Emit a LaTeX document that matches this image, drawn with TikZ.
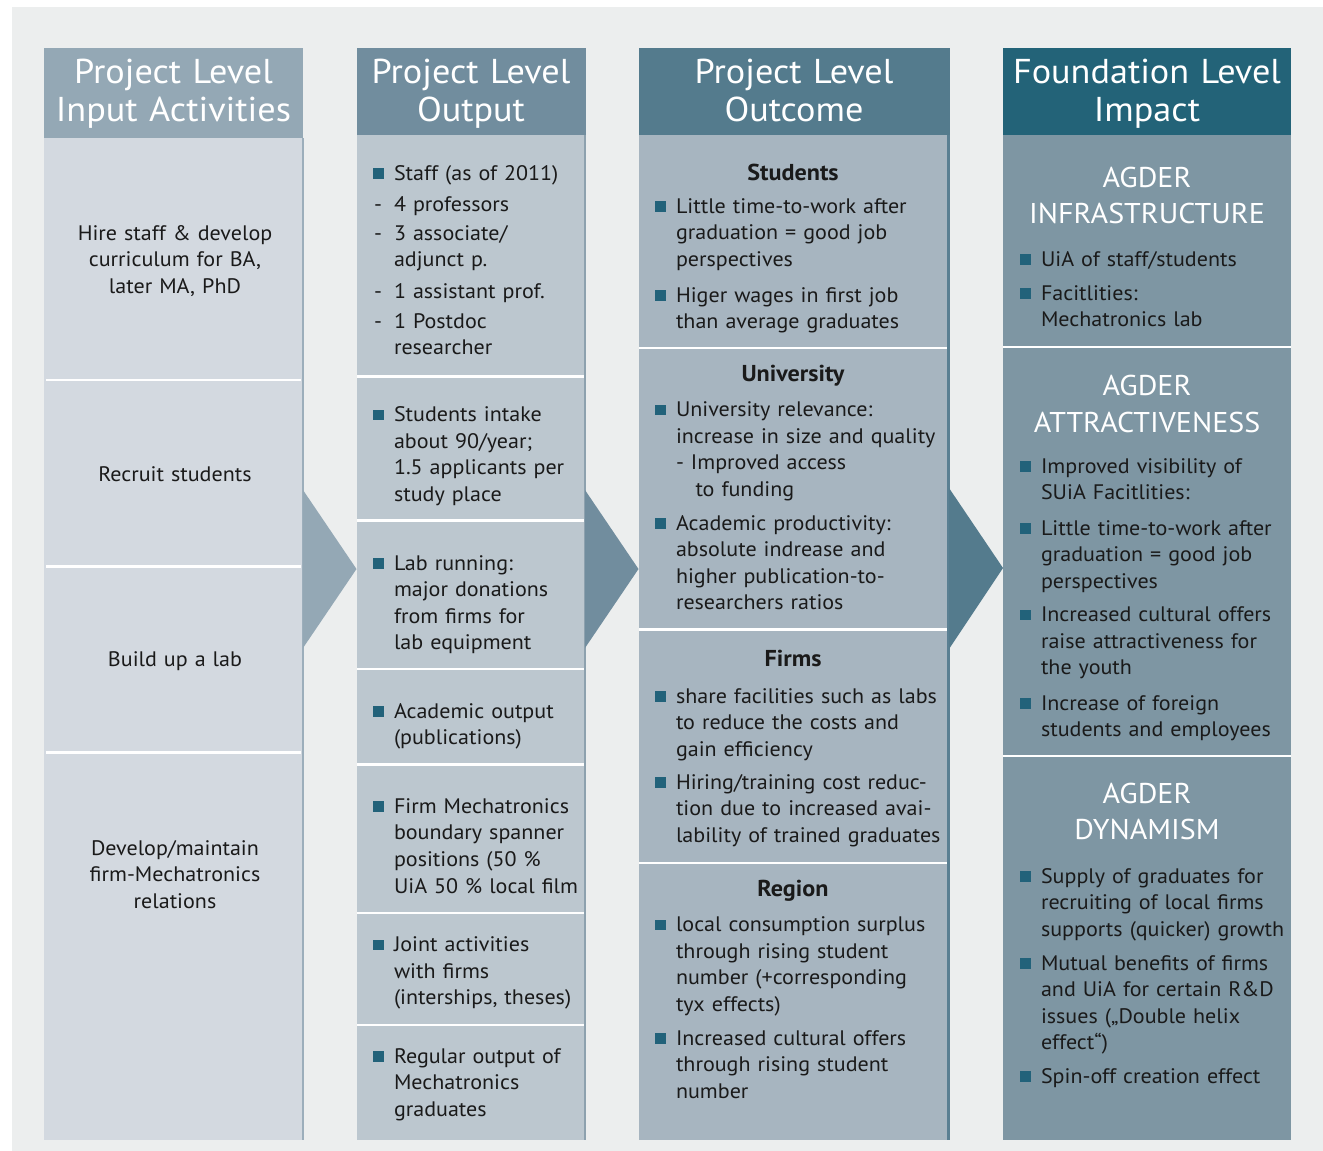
\documentclass[tikz,border=0pt]{standalone}
\usepackage{fontspec}
\setmainfont{PT Sans}[FakeStretch=1.05]
\definecolor{panel}{HTML}{ECEEEE}
\definecolor{hA}{HTML}{94A8B5}
\definecolor{bA}{HTML}{D3D9E0}
\definecolor{eA}{HTML}{9CAEBB}
\definecolor{hB}{HTML}{718D9E}
\definecolor{bB}{HTML}{BCC7CF}
\definecolor{eB}{HTML}{8DA1AE}
\definecolor{hC}{HTML}{547B8D}
\definecolor{bC}{HTML}{A7B5C0}
\definecolor{eC}{HTML}{5A7F92}
\definecolor{hD}{HTML}{236378}
\definecolor{bD}{HTML}{7E96A3}
\definecolor{bul}{HTML}{22627A}
\definecolor{txt}{HTML}{1A1A1A}
\newcommand\bodyfont{\fontsize{21}{26.6}\selectfont}
\newcommand\headfont{\fontsize{34.5}{38}\selectfont}
\newcommand\agfont{\fontsize{28.6}{36.5}\selectfont}
\newcommand\subfont{\bfseries\fontsize{23}{26}\selectfont}
\newcommand\bitem[4]{%
  \fill[bul] (#1,#2-1.5) rectangle ++(10.5,-10.5);
  \node[body] (#3) at (#1+21,#2) {#4};}
\tikzset{
  every node/.style={inner sep=0pt, outer sep=0pt},
  body/.style={anchor=base west, align=left, text width=300pt, font=\bodyfont, text=txt},
  ctr/.style={anchor=base, align=center, text width=300pt, font=\bodyfont, text=txt},
  head/.style={anchor=base, align=center, text width=320pt, font=\headfont, text=white},
  ag/.style={anchor=base, align=center, text width=300pt, font=\agfont, text=white},
  sub/.style={anchor=base, align=center, text width=300pt, font=\subfont, text=txt},
  divider/.style={white, line width=2.2pt},
}
\begin{document}
\begin{tikzpicture}[x=1pt,y=-1pt]
\useasboundingbox (0,0) rectangle (1323,1151);
\fill[white] (0,0) rectangle (1323,1151);
\fill[panel] (12,7) rectangle (1323,1151);

% column bodies and headers
\fill[bA] (44,138) rectangle (303,1140);
\fill[eA] (301.5,138) rectangle (304,1140);
\fill[hA] (44,48) rectangle (303,138);
\fill[bB] (357,135) rectangle (586,1140);
\fill[eB] (583.5,135) rectangle (586,1140);
\fill[hB] (357,48) rectangle (586,135);
\fill[bC] (639,135) rectangle (950,1140);
\fill[eC] (947,135) rectangle (950,1140);
\fill[hC] (639,48) rectangle (950,135);
\fill[bD] (1003,135) rectangle (1291,1140);
\fill[hD] (1003,48) rectangle (1291,135);

% dividers
\foreach \y in {380,566.5,752.5} \draw[divider] (46,\y) -- (301,\y);
\foreach \y in {376.5,520.5,669.3,764.5,913,1025} \draw[divider] (357,\y) -- (583.5,\y);
\foreach \y in {348.3,629.5,863} \draw[divider] (639,\y) -- (947,\y);
\foreach \y in {347,756} \draw[divider] (1003,\y) -- (1291,\y);

% chevrons
\coordinate (a1t) at (303,490); \coordinate (a1p) at (356.5,569); \coordinate (a1b) at (303,648);
\coordinate (a2t) at (585,490); \coordinate (a2p) at (638.5,569); \coordinate (a2b) at (585,648);
\coordinate (a3t) at (949,488); \coordinate (a3p) at (1003,568); \coordinate (a3b) at (949,649);
\fill[hA] (a1t) -- (a1p) -- (a1b) -- cycle;
\fill[hB] (a2t) -- (a2p) -- (a2b) -- cycle;
\fill[hC] (a3t) -- (a3p) -- (a3b) -- cycle;

% headers
\node[head] (h1) at (173.5,83) {Project Level\\Input Activities};
\node[head] (h2) at (471,83) {Project Level\\Output};
\node[head] (h3) at (794,83) {Project Level\\Outcome};
\node[head] (h4) at (1147,83) {Foundation Level\\Impact};

% column 1
\node[ctr] (i1) at (175,240) {Hire staff \& develop\\curriculum for BA,\\later MA, PhD};
\node[ctr] (i2) at (175,481.7) {Recruit students};
\node[ctr] (i3) at (175,666.7) {Build up a lab};
\node[ctr] (i4) at (175,855) {Develop/maintain\\firm-Mechatronics\\relations};

% column 2
\bitem{373}{180}{o1}{Staff (as of 2011)}
\node[body] (o1a) at (374,211.7) {-};
\node[body] (o1at) at (394,211.7) {4 professors};
\node[body] (o1b) at (374,240) {-};
\node[body] (o1bt) at (394,240) {3 associate/\\adjunct p.};
\node[body] (o1c) at (374,298) {-};
\node[body] (o1ct) at (394,298) {1 assistant prof.};
\node[body] (o1d) at (374,328) {-};
\node[body] (o1dt) at (394,328) {1 Postdoc\\researcher};
\bitem{373}{421.7}{o2}{Students intake\\about 90/year;\\1.5 applicants per\\study place}
\bitem{373}{570}{o3}{Lab running:\\major donations\\from firms for\\lab equipment}
\bitem{373}{718}{o4}{Academic output\\(publications)}
\bitem{373}{813.3}{o5}{Firm Mechatronics\\boundary spanner\\positions (50 \%\\UiA 50 \% local film}
\bitem{373}{951.7}{o6}{Joint activities\\with firms\\(interships, theses)}
\bitem{373}{1063.3}{o7}{Regular output of\\Mechatronics\\graduates}

% column 3
\node[sub] (s1) at (793,180) {Students};
\bitem{655}{213}{u1}{Little time-to-work after\\graduation = good job\\perspectives}
\bitem{655}{302}{u2}{Higer wages in first job\\than average graduates}
\node[sub] (s2) at (793,381.7) {University};
\bitem{655}{416.7}{u3}{University relevance:\\increase in size and quality\\- Improved access\\\hspace*{19.5pt}to funding}
\bitem{655}{530}{u4}{Academic productivity:\\absolute indrease and\\higher publication-to-\\researchers ratios}
\node[sub] (s3) at (793,666.7) {Firms};
\bitem{655}{703.3}{u5}{share facilities such as labs\\to reduce the costs and\\gain efficiency}
\bitem{655}{789}{u6}{Hiring/training cost reduc-\\tion due to increased avai-\\lability of trained graduates}
\node[sub] (s4) at (793,896.7) {Region};
\bitem{655}{931.7}{u7}{local consumption surplus\\through rising student\\number (+corresponding\\tyx effects)}
\bitem{655}{1045}{u8}{Increased cultural offers\\through rising student\\number}

% column 4
\node[ag] (g1) at (1147,187) {AGDER\\INFRASTRUCTURE};
\bitem{1020}{266}{m1}{UiA of staff/students}
\bitem{1020}{300}{m2}{Facitlities:\\Mechatronics lab}
\node[ag] (g2) at (1147,395.7) {AGDER\\ATTRACTIVENESS};
\bitem{1020}{473}{m3}{Improved visibility of\\SUiA Facitlities:}
\bitem{1020}{535}{m4}{Little time-to-work after\\graduation = good job\\perspectives}
\bitem{1020}{621.7}{m5}{Increased cultural offers\\raise attractiveness for\\the youth}
\bitem{1020}{710}{m6}{Increase of foreign\\students and employees}
\node[ag] (g3) at (1147,803.3) {AGDER\\DYNAMISM};
\bitem{1020}{883.3}{m7}{Supply of graduates for\\recruiting of local firms\\supports (quicker) growth}
\bitem{1020}{970}{m8}{Mutual benefits of firms\\and UiA for certain R\&D\\issues („Double helix\\effect“)}
\bitem{1020}{1083.3}{m9}{Spin-off creation effect}
\end{tikzpicture}
\end{document}
